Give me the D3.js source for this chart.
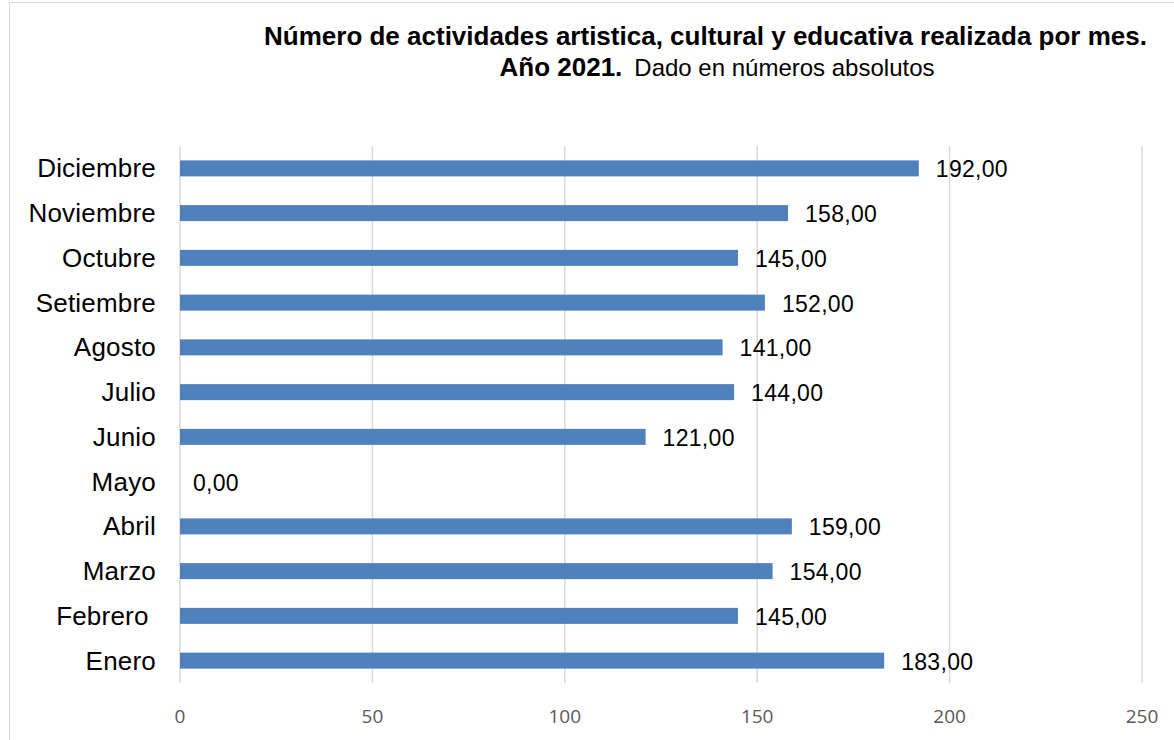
<!DOCTYPE html>
<html><head><meta charset="utf-8">
<script src="https://cdn.jsdelivr.net/npm/d3@7"></script>
<style>body{margin:0;background:#fff}svg{display:block}</style>
</head><body>
<script>
const months = ["Enero","Febrero ","Marzo","Abril","Mayo","Junio","Julio","Agosto","Setiembre","Octubre","Noviembre","Diciembre"];
const values = [183,145,154,159,0,121,144,141,152,145,158,192];
const ticks = [0,50,100,150,200,250];
const titleLine1 = "Número de actividades artistica, cultural y educativa realizada por mes.";
const titleBold2 = "Año 2021.";
const titleNormal2 = "Dado en números absolutos";

const W=1174,H=740;
const svg=d3.select("body").append("svg").attr("width",W).attr("height",H)
  .style("font-family","'Liberation Sans', Arial, sans-serif");
svg.append("rect").attr("x",9.5).attr("y",2.5).attr("width",1180).attr("height",760)
  .attr("fill","#fff").attr("stroke","#d9d9d9");

const x=d3.scaleLinear().domain([0,250]).range([180,1142]);
const y=d3.scaleBand().domain(months.slice().reverse()).range([146,683]);

svg.append("g").selectAll("line").data(ticks).join("line")
  .attr("x1",d=>x(d)).attr("x2",d=>x(d)).attr("y1",146).attr("y2",683)
  .attr("stroke","#d9d9d9").attr("stroke-width",1.5);

const bh=16;
svg.append("g").selectAll("rect").data(months).join("rect")
  .attr("x",x(0)).attr("y",(d)=>y(d)+y.bandwidth()/2-bh/2)
  .attr("width",(d,i)=>x(values[i])-x(0)).attr("height",bh).attr("fill","#4F81BD");

svg.append("g").selectAll("text").data(months).join("text")
  .attr("x",(d,i)=>x(values[i])+(values[i]===0?13:17))
  .attr("y",d=>y(d)+y.bandwidth()/2+9)
  .attr("font-size",23).attr("letter-spacing",0.3).attr("fill","#000")
  .text((d,i)=>values[i].toFixed(2).replace(".",","));

svg.append("g").selectAll("text").data(months).join("text")
  .attr("x",156).attr("y",d=>y(d)+y.bandwidth()/2+9)
  .style("white-space","pre")
  .attr("text-anchor","end").attr("font-size",26).attr("letter-spacing",0.2).attr("fill","#000").text(d=>d);

svg.append("g").selectAll("text").data(ticks).join("text")
  .attr("x",d=>x(d)).attr("y",723).attr("text-anchor","middle")
  .attr("font-family","'Open Sans', sans-serif")
  .attr("font-size",19).attr("fill","#595959").text(d=>d);

svg.append("text").attr("x",705.5).attr("y",45).attr("text-anchor","middle")
  .attr("font-size",26).attr("font-weight","bold").text(titleLine1);
const t2=svg.append("text").attr("x",717).attr("y",76).attr("text-anchor","middle");
t2.append("tspan").attr("font-size",26).attr("font-weight","bold").text(titleBold2);
t2.append("tspan").attr("font-size",24).attr("dx",12).text(titleNormal2);
</script>
</body></html>
